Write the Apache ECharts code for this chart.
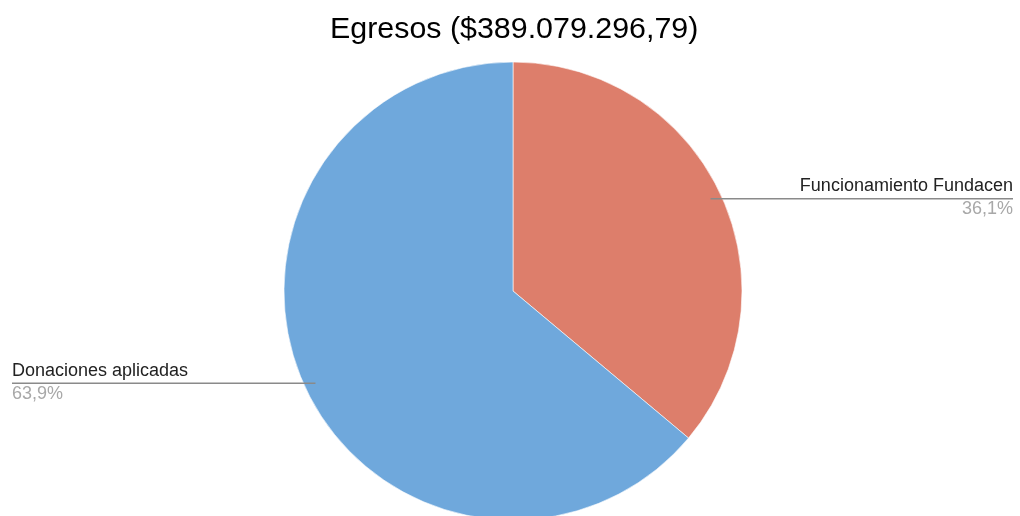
<!DOCTYPE html>
<html>
<head>
<meta charset="utf-8">
<script src="https://cdn.jsdelivr.net/npm/echarts@6/dist/echarts.min.js"></script>
<style>html,body{margin:0;padding:0;background:#fff}#c{width:1020px;height:516px}</style>
</head>
<body>
<div id="c"></div>
<script>
const titleText = 'Egresos ($389.079.296,79)';
const categories = ['Funcionamiento Fundacen', 'Donaciones aplicadas'];
const values = [36.1, 63.9];
const colors = ['#dd7e6b', '#6fa8dc'];

const FONT = 'Liberation Sans, Arial, sans-serif';
const chart = echarts.init(document.getElementById('c'), null, {renderer: 'canvas'});
const CX = 513, CY = 291, R = 229;

function fmtPct(p) { return p.toFixed(1).replace('.', ',') + '%'; }

const base = {
  type: 'pie',
  center: [CX, CY],
  radius: [0, R],
  startAngle: 90,
  clockwise: true,
  silent: true
};

chart.setOption({
  animation: false,
  backgroundColor: '#ffffff',
  title: {
    text: titleText,
    left: 325,
    top: 10,
    textStyle: {fontFamily: FONT, fontSize: 30.4, fontWeight: 'normal', color: '#000'}
  },
  series: [
    Object.assign({}, base, {
      z: 2,
      itemStyle: {borderColor: '#fff', borderWidth: 0.6},
      data: categories.map((n, i) => ({name: n, value: values[i], itemStyle: {color: colors[i]}})),
      label: {show: false},
      labelLine: {show: false}
    }),
    Object.assign({}, base, {
      z: 5,
      itemStyle: {color: 'rgba(0,0,0,0)', borderWidth: 0},
      data: categories.map((n, i) => ({name: n, value: values[i]})),
      label: {
        show: true,
        position: 'outside',
        formatter: p => '{n|' + p.name + '}\n{p|' + fmtPct(p.percent) + '}',
        rich: {
          n: {fontFamily: FONT, fontSize: 18, color: '#222222', lineHeight: 25},
          p: {fontFamily: FONT, fontSize: 18, color: '#a8a8a8', lineHeight: 21}
        }
      },
      labelLine: {show: true, length: 5, length2: 5, lineStyle: {color: '#8a8a8a', width: 1.4}},
      labelLayout: function (params) {
        const p0 = params.labelLinePoints[0];
        const dx = p0[0] - CX, dy = p0[1] - CY;
        const d = Math.sqrt(dx * dx + dy * dy);
        const k = 218 / d;
        const sx = CX + dx * k, sy = CY + dy * k;
        const right = sx > CX;
        const ex = right ? 1013 : 12;
        return {
          x: ex,
          y: sy - 25,
          align: right ? 'right' : 'left',
          verticalAlign: 'top',
          labelLinePoints: [[sx, sy], [sx, sy], [ex, sy]]
        };
      }
    })
  ]
});
</script>
</body>
</html>
